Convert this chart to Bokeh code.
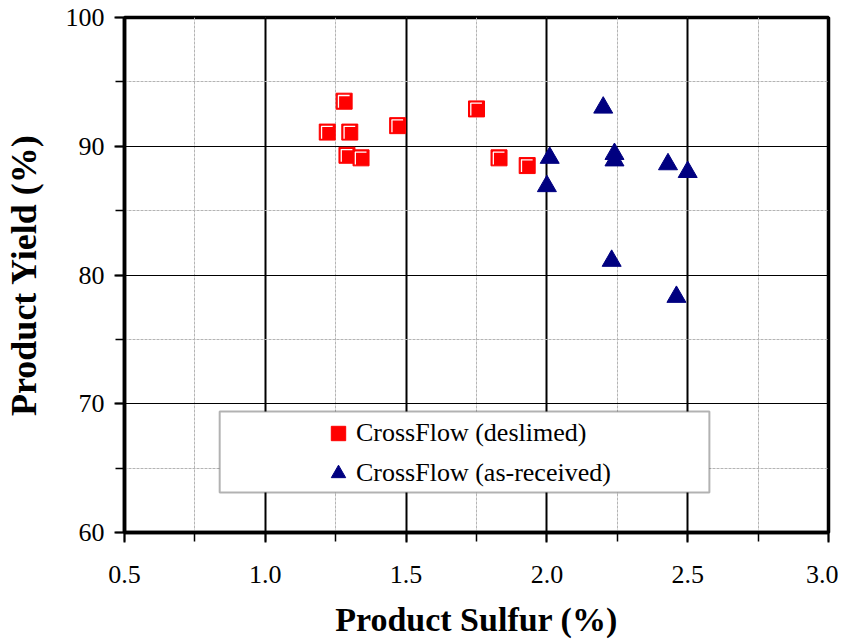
import math
from bokeh.plotting import figure
from bokeh.models import (Legend, LegendItem, BoxAnnotation, SingleIntervalTicker,
                          NumeralTickFormatter, Range1d, ColumnDataSource)
from bokeh.transform import dodge
from bokeh.embed import file_html
from bokeh.resources import INLINE

# ---- data ----
deslimed_sulfur = [1.22, 1.28, 1.30, 1.29, 1.34, 1.47, 1.75, 1.83, 1.93]
deslimed_yield = [91.1, 93.5, 91.1, 89.3, 89.1, 91.6, 92.9, 89.1, 88.5]

asreceived_sulfur = [2.20, 2.01, 2.00, 2.24, 2.24, 2.43, 2.50, 2.23, 2.46]
asreceived_yield = [93.0, 89.1, 86.9, 89.4, 88.9, 88.6, 88.0, 81.1, 78.3]

series_labels = ["CrossFlow (deslimed)", "CrossFlow (as-received)"]
x_title = "Product Sulfur (%)"
y_title = "Product Yield (%)"

FONT = "Liberation Serif"
FW, FH = 704, 515
X0, X1, Y0, Y1 = 0.5, 3.0, 60, 100

p = figure(x_range=Range1d(X0, X1), y_range=Range1d(Y0, Y1),
           frame_width=FW, frame_height=FH,
           min_border_left=123, min_border_right=10, min_border_top=17, min_border_bottom=106,
           output_backend="svg", toolbar_location=None,
           background_fill_color="white", border_fill_color="white")

p.outline_line_color = "black"
p.outline_line_width = 3.5

xt = SingleIntervalTicker(interval=0.5, num_minor_ticks=2)
yt = SingleIntervalTicker(interval=10, num_minor_ticks=2)
p.xaxis.ticker = xt
p.yaxis.ticker = yt
p.xgrid.ticker = xt
p.ygrid.ticker = yt
p.xaxis.formatter = NumeralTickFormatter(format="0.0")
p.yaxis.formatter = NumeralTickFormatter(format="0")

for ax in (p.xaxis, p.yaxis):
    ax.axis_line_color = "black"
    ax.axis_line_width = 3.5
    ax.major_tick_line_color = "black"
    ax.minor_tick_line_color = "black"
    ax.major_tick_line_width = 2
    ax.minor_tick_line_width = 1.5
    ax.major_tick_out = 10
    ax.major_tick_in = 0
    ax.minor_tick_out = 9
    ax.minor_tick_in = 0
    ax.major_label_text_font = FONT
    ax.major_label_text_font_size = "26px"
    ax.major_label_text_color = "black"
    ax.axis_label_text_font = FONT
    ax.axis_label_text_font_style = "bold"
    ax.axis_label_text_color = "black"

p.xaxis.axis_label = x_title
p.yaxis.axis_label = y_title
p.xaxis.axis_label_text_font_size = "34px"
p.yaxis.axis_label_text_font_size = "36px"
p.xaxis.major_label_standoff = 23
p.xaxis.axis_label_standoff = 15
p.yaxis.major_label_standoff = 10
p.yaxis.axis_label_standoff = 19

p.xgrid.grid_line_color = "black"
p.xgrid.grid_line_width = 2
p.ygrid.grid_line_color = "black"
p.ygrid.grid_line_width = 1.2
for g in (p.xgrid, p.ygrid):
    g.minor_grid_line_color = "#b4b4b4"
    g.minor_grid_line_width = 1
    g.minor_grid_line_dash = "3 1"

src_d = ColumnDataSource(dict(x=deslimed_sulfur, y=deslimed_yield))
src_a = ColumnDataSource(dict(x=asreceived_sulfur, y=asreceived_yield))

r_sq = p.scatter("x", "y", source=src_d, marker="square", size=16,
                 fill_color="#ff0000", line_color="#ff0000", line_width=1)

# white bevel highlight on squares (pixel offsets converted to data units)
dxp = (X1 - X0) / FW
dyp = (Y1 - Y0) / FH
p.scatter(x=dodge("x", -0.3 * dxp), y=dodge("y", 5.7 * dyp), source=src_d,
          marker="dash", size=11.5, line_color="white", line_width=1.3)
p.scatter(x=dodge("x", -5.7 * dxp), y=dodge("y", -0.3 * dyp), source=src_d,
          marker="dash", angle=math.pi / 2, size=12.5, line_color="white", line_width=1.3)

r_tri = p.scatter("x", "y", source=src_a, marker="triangle", size=19,
                  fill_color="#000080", line_color="#000080", line_width=1)

box = BoxAnnotation(left=0.838, right=2.577, bottom=63.1, top=69.4,
                    fill_color="white", fill_alpha=1.0,
                    line_color="black", line_width=2)
p.add_layout(box)

legend = Legend(items=[LegendItem(label=series_labels[0], renderers=[r_sq]),
                       LegendItem(label=series_labels[1], renderers=[r_tri])],
                location=(196, 39), glyph_width=36, glyph_height=40,
                label_standoff=0, padding=0, spacing=0, margin=0,
                border_line_color=None, background_fill_alpha=0,
                label_text_font=FONT, label_text_font_size="26px",
                label_text_color="black")
p.add_layout(legend)

open("out.html", "w").write(file_html(p, INLINE))
